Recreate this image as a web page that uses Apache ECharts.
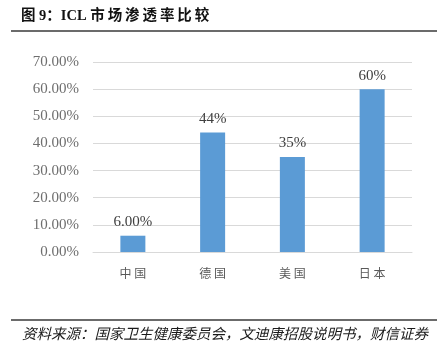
<!DOCTYPE html>
<html>
<head>
<meta charset="utf-8">
<script src="https://cdn.jsdelivr.net/npm/echarts@6/dist/echarts.min.js"></script>
<style>
  html, body { margin: 0; padding: 0; background: #fff; }
  .chart { width: 447px; height: 353px; }
</style>
</head>
<body>
<div class="chart"></div>
<script>
// 数据
var countries = ['中国', '德国', '美国', '日本'];
var rates = [6, 44, 35, 60];
var rateLabels = ['6.00%', '44%', '35%', '60%'];
var yTicks = [0, 10, 20, 30, 40, 50, 60, 70];

var myChart = echarts.init(document.querySelector('.chart'));

var serif = '"Liberation Serif", "Times New Roman", "Noto Sans CJK SC", serif';
var cjk = '"Noto Sans CJK SC", "Liberation Serif", serif';

// 中文标题字间距稍宽
function spaced(s) {
  return s.split('').join('\u2009');
}

var option = {
  backgroundColor: '#fff',
  animation: false,
  title: [{
    text: '图 9：ICL ' + spaced('市场渗透率比较'),
    left: 16,
    top: 4,
    textStyle: { fontFamily: serif, fontSize: 14.5, fontWeight: 'bold', color: '#111' }
  }, {
    text: '资料来源：国家卫生健康委员会，文迪康招股说明书，财信证券',
    left: 17,
    top: 321,
    textStyle: { fontFamily: cjk, fontSize: 14.5, fontStyle: 'italic', fontWeight: 'normal', color: '#1a1a1a' }
  }],
  graphic: [
    { type: 'rect', shape: { x: 11, y: 30, width: 426, height: 2 }, style: { fill: '#6b6b6b' } },
    { type: 'rect', shape: { x: 11, y: 319, width: 426, height: 2 }, style: { fill: '#6b6b6b' } }
  ],
  grid: { left: 93, right: 35, top: 62, bottom: 101 },
  xAxis: {
    type: 'category',
    data: countries,
    axisLine: { lineStyle: { color: '#d9d9d9' } },
    axisTick: { show: false },
    axisLabel: {
      margin: 15,
      fontFamily: cjk,
      fontSize: 12,
      color: '#595959',
      formatter: function (v) { return v.split('').join(' '); }
    }
  },
  yAxis: {
    type: 'value',
    min: yTicks[0],
    max: yTicks[yTicks.length - 1],
    interval: 10,
    axisLine: { show: false },
    axisTick: { show: false },
    splitLine: { lineStyle: { color: '#d9d9d9' } },
    axisLabel: {
      margin: 14,
      fontFamily: serif,
      fontSize: 15,
      color: '#6e6e6e',
      formatter: function (v) { return v.toFixed(2) + '%'; }
    }
  },
  series: [{
    type: 'bar',
    data: rates,
    barWidth: 25,
    itemStyle: { color: '#5b9bd5' },
    label: {
      show: true,
      position: 'top',
      distance: 6,
      fontFamily: serif,
      fontSize: 15,
      color: '#404040',
      formatter: function (p) { return rateLabels[p.dataIndex]; }
    }
  }]
};

myChart.setOption(option);
</script>
</body>
</html>
